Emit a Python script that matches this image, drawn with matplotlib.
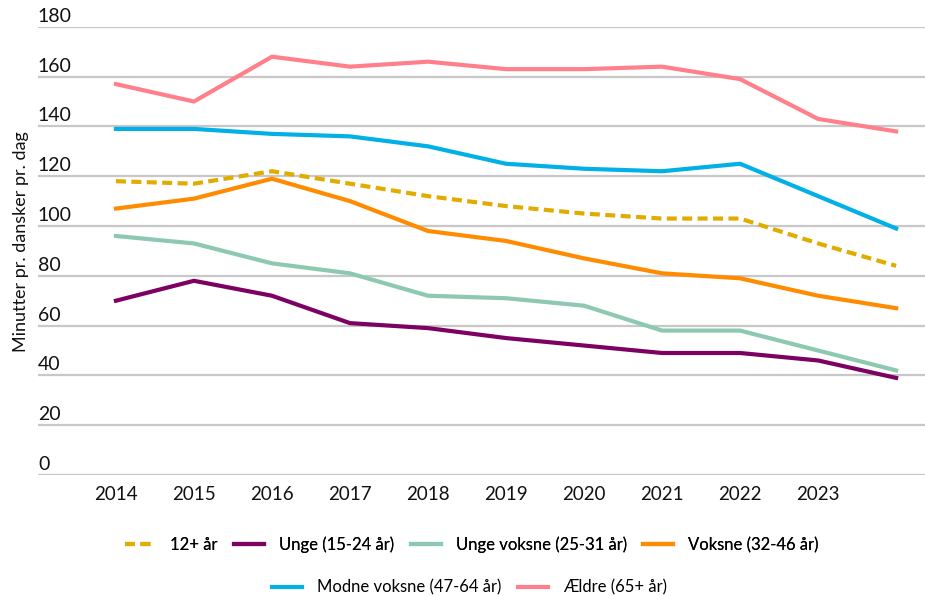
import numpy as np
import matplotlib
matplotlib.use("Agg")
import matplotlib.pyplot as plt
from matplotlib import transforms

plt.rcParams["font.family"] = ["Lato", "DejaVu Sans"]

years = [2014, 2015, 2016, 2017, 2018, 2019, 2020, 2021, 2022, 2023, 2024]
year_labels = ["2014", "2015", "2016", "2017", "2018", "2019", "2020",
               "2021", "2022", "2023", ""]

alle = [118, 117, 122, 117, 112, 108, 105, 103, 103, 93, 84]
unge = [70, 78, 72, 61, 59, 55, 52, 49, 49, 46, 39]
unge_voksne = [96, 93, 85, 81, 72, 71, 68, 58, 58, 50, 42]
voksne = [107, 111, 119, 110, 98, 94, 87, 81, 79, 72, 67]
modne_voksne = [139, 139, 137, 136, 132, 125, 123, 122, 125, 112, 99]
aeldre = [157, 150, 168, 164, 166, 163, 163, 164, 159, 143, 138]

series = [
    ("12+ år", alle, "#E0AC00", True),
    ("Unge (15-24 år)", unge, "#7D0063", False),
    ("Unge voksne (25-31 år)", unge_voksne, "#8CC9B0", False),
    ("Voksne (32-46 år)", voksne, "#FF8C00", False),
    ("Modne voksne (47-64 år)", modne_voksne, "#00B0E6", False),
    ("Ældre (65+ år)", aeldre, "#FF808B", False),
]

fig = plt.figure(figsize=(9.25, 5.96), dpi=100)
ax = fig.add_axes([0.041, 0.203, 0.959, 0.752])

x = np.arange(len(years))
handles = []
for name, vals, col, dashed in series:
    if dashed:
        h, = ax.plot(x, vals, color=col, lw=3, dashes=(2.4, 1.3), label=name,
                     solid_capstyle="butt", dash_capstyle="butt")
    else:
        h, = ax.plot(x, vals, color=col, lw=3, label=name,
                     solid_joinstyle="round")
    handles.append(h)

ax.set_ylim(0, 180)
ax.set_xlim(-1, 10.37)
yt = np.arange(0, 181, 20)
for v in yt:
    ax.axhline(v, color="#C8C8C8", lw=1.6, zorder=0)

# y labels sit above the gridlines, left-aligned
off = transforms.offset_copy(ax.get_yaxis_transform(), fig=fig, x=0, y=1.5, units="points")
for v in yt:
    ax.text(0, v, str(v), transform=off, ha="left", va="bottom",
            fontsize=14, color="#111111", clip_on=False)

ax.set_yticks([])
ax.set_xticks(x)
ax.set_xticklabels(year_labels, fontsize=13.5, color="#111111")
ax.tick_params(axis="x", length=0, pad=8)
for s in ax.spines.values():
    s.set_visible(False)

fig.text(0.023, 0.595, "Minutter pr. dansker pr. dag", rotation=90,
         ha="center", va="center", fontsize=13, color="#111111")

leg1 = fig.legend(handles[:4], [s[0] for s in series[:4]], loc="center",
                  bbox_to_anchor=(0.51, 0.086), ncol=4, frameon=False,
                  fontsize=12, handlelength=1.8, columnspacing=1.0,
                  handletextpad=0.9)
leg2 = fig.legend(handles[4:], [s[0] for s in series[4:]], loc="center",
                  bbox_to_anchor=(0.508, 0.014), ncol=2, frameon=False,
                  fontsize=12, handlelength=1.8, columnspacing=1.0,
                  handletextpad=0.9)
fig.add_artist(leg1)

fig.savefig("out.png", dpi=100)
